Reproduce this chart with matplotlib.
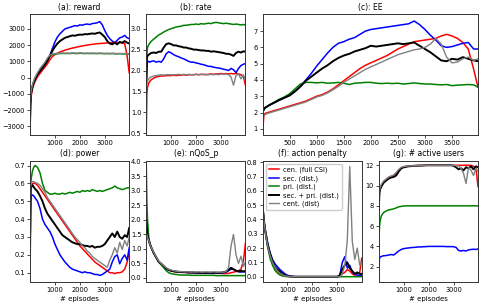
import numpy as np
import matplotlib
matplotlib.use('Agg')
import matplotlib.pyplot as plt
from matplotlib.gridspec import GridSpec

# episode grid the values were read at
episodes = [1, 25, 50, 100, 150, 200, 300, 400, 500, 600, 700, 800, 900, 1000,
            1100, 1200, 1300, 1400, 1500, 1600, 1700, 1800, 1900, 2000, 2100, 2200,
            2300, 2400, 2500, 2600, 2700, 2800, 2900, 3000, 3100, 3200, 3300, 3400,
            3500, 3600, 3700, 3800, 3900, 3980]

labels = ['cen. (full CSI)', 'sec. (dist.)', 'pri. (dist.)', 'sec. + pri. (dist.)', 'cent. (dist)']
colors = ['red', 'blue', 'green', 'black', 'gray']
widths = [1.1, 1.1, 1.1, 1.4, 1.0]

# (a) reward
reward_cen = [-1100, -1500, -1100, -700, -450, -250, 50, 250, 450, 650, 850, 1100, 1300, 1420,
              1500, 1580, 1630, 1690, 1730, 1780, 1820, 1850, 1890, 1920, 1950, 1980, 2000,
              2030, 2050, 2070, 2090, 2100, 2110, 2120, 2140, 2150, 2140, 2160, 2150, 2160,
              2130, 2100, 1300, 300]
reward_sec = [-3300, -1300, -900, -550, -300, -100, 200, 400, 600, 800, 1050, 1350, 1800, 2200,
              2500, 2700, 2850, 3000, 3050, 3100, 3150, 3200, 3180, 3250, 3230, 3280, 3300,
              3270, 3330, 3350, 3380, 3450, 3250, 2900, 2600, 2400, 2250, 2150, 2300, 2450,
              2500, 2600, 2450, 2400]
reward_pri = [-2000, -1300, -900, -500, -250, -50, 250, 500, 700, 900, 1150, 1350, 1420, 1450,
              1470, 1480, 1490, 1480, 1490, 1480, 1500, 1490, 1480, 1500, 1490, 1480, 1490,
              1480, 1490, 1480, 1480, 1490, 1480, 1470, 1480, 1470, 1480, 1470, 1460, 1470,
              1460, 1460, 1450, 1440]
reward_secpri = [-2800, -1300, -900, -550, -300, -100, 200, 400, 600, 800, 1050, 1350, 1650,
                 1900, 2100, 2250, 2350, 2450, 2500, 2550, 2600, 2580, 2620, 2650, 2640, 2680,
                 2670, 2700, 2720, 2700, 2750, 2780, 2650, 2500, 2250, 2100, 2050, 2150, 2050,
                 2200, 2150, 2250, 2150, 2100]
reward_cent = [-2000, -1200, -800, -450, -200, 0, 300, 550, 750, 950, 1200, 1400, 1450, 1480,
               1500, 1500, 1510, 1500, 1510, 1500, 1520, 1510, 1500, 1520, 1510, 1500, 1510,
               1500, 1510, 1500, 1500, 1510, 1500, 1490, 1500, 1490, 1500, 1490, 1480, 1490,
               1480, 1480, 1470, 1460]

# (b) rate
rate_cen = [0.5, 1.45, 1.6, 1.7, 1.75, 1.78, 1.82, 1.85, 1.86, 1.87, 1.87, 1.88, 1.88, 1.88,
            1.89, 1.88, 1.89, 1.89, 1.9, 1.89, 1.9, 1.9, 1.9, 1.91, 1.9, 1.91, 1.91, 1.9,
            1.91, 1.92, 1.91, 1.92, 1.92, 1.93, 1.92, 1.93, 1.92, 1.93, 1.92, 1.93, 1.92,
            1.9, 1.85, 1.65]
rate_sec = [1.7, 2.1, 2.2, 2.22, 2.2, 2.22, 2.23, 2.2, 2.22, 2.2, 2.28, 2.4, 2.45, 2.42,
            2.38, 2.35, 2.33, 2.3, 2.28, 2.25, 2.22, 2.2, 2.2, 2.18, 2.17, 2.15, 2.14, 2.12,
            2.1, 2.1, 2.08, 2.07, 2.06, 2.05, 2.03, 2.02, 2.0, 2.05, 2.02, 1.95, 2.05, 2.12,
            2.15, 2.17]
rate_pri = [1.65, 2.4, 2.55, 2.62, 2.66, 2.7, 2.75, 2.8, 2.85, 2.88, 2.92, 2.95, 2.98, 3.0,
            3.02, 3.04, 3.05, 3.06, 3.08, 3.08, 3.09, 3.1, 3.1, 3.11, 3.1, 3.12, 3.11, 3.12,
            3.13, 3.12, 3.14, 3.15, 3.14, 3.13, 3.12, 3.13, 3.12, 3.11, 3.1, 3.11, 3.1, 3.09,
            3.1, 3.08]
rate_secpri = [1.7, 2.3, 2.35, 2.38, 2.4, 2.42, 2.43, 2.42, 2.45, 2.45, 2.55, 2.63, 2.65,
               2.63, 2.6, 2.6, 2.58, 2.57, 2.55, 2.55, 2.53, 2.52, 2.5, 2.5, 2.49, 2.48, 2.48,
               2.47, 2.47, 2.45, 2.46, 2.45, 2.44, 2.43, 2.42, 2.4, 2.4, 2.38, 2.35, 2.42,
               2.45, 2.43, 2.46, 2.45]
rate_cent = [1.6, 1.7, 1.75, 1.8, 1.83, 1.85, 1.87, 1.88, 1.89, 1.9, 1.89, 1.9, 1.9, 1.9,
             1.9, 1.9, 1.91, 1.9, 1.91, 1.9, 1.91, 1.9, 1.9, 1.91, 1.9, 1.91, 1.9, 1.91, 1.9,
             1.91, 1.9, 1.91, 1.9, 1.92, 1.91, 1.92, 1.9, 1.85, 1.65, 1.88, 1.92, 1.8, 1.9,
             1.75]

# (c) EE
ee_cen = [0.8, 1.85, 1.95, 2.0, 2.05, 2.1, 2.2, 2.3, 2.4, 2.5, 2.6, 2.7, 2.85, 3.0, 3.1,
          3.25, 3.45, 3.7, 3.95, 4.2, 4.45, 4.7, 4.9, 5.05, 5.2, 5.35, 5.5, 5.7, 5.9, 6.05,
          6.2, 6.35, 6.4, 6.45, 6.5, 6.55, 6.7, 6.8, 6.7, 6.55, 6.3, 5.9, 4.65, 3.55]
ee_sec = [2.0, 2.2, 2.3, 2.4, 2.5, 2.58, 2.75, 2.9, 3.05, 3.3, 3.6, 4.0, 4.4, 4.85, 5.25,
          5.65, 6.0, 6.25, 6.35, 6.5, 6.6, 6.8, 7.0, 7.1, 7.15, 7.2, 7.25, 7.3, 7.35, 7.4,
          7.45, 7.62, 7.4, 7.1, 6.75, 6.45, 6.1, 6.0, 6.05, 6.15, 6.25, 6.3, 5.9, 5.9]
ee_pri = [2.0, 2.2, 2.3, 2.4, 2.5, 2.6, 2.8, 2.95, 3.15, 3.45, 3.75, 3.85, 3.85, 3.82, 3.85,
          3.8, 3.82, 3.85, 3.8, 3.72, 3.8, 3.82, 3.85, 3.85, 3.8, 3.78, 3.8, 3.78, 3.8, 3.75,
          3.78, 3.82, 3.78, 3.75, 3.75, 3.72, 3.7, 3.72, 3.65, 3.68, 3.7, 3.72, 3.7, 3.55]
ee_secpri = [2.0, 2.2, 2.3, 2.4, 2.5, 2.58, 2.75, 2.9, 3.05, 3.3, 3.6, 3.95, 4.2, 4.45, 4.7,
             4.9, 5.15, 5.35, 5.5, 5.6, 5.75, 5.85, 5.95, 6.1, 6.05, 6.1, 6.15, 6.2, 6.25,
             6.2, 6.25, 6.3, 6.1, 5.9, 5.7, 5.45, 5.2, 5.15, 5.3, 5.25, 5.4, 5.3, 5.2, 5.15]
ee_cent = [1.5, 1.8, 1.88, 1.95, 2.0, 2.05, 2.15, 2.25, 2.35, 2.45, 2.55, 2.65, 2.8, 2.95,
           3.05, 3.2, 3.4, 3.6, 3.85, 4.05, 4.25, 4.45, 4.65, 4.8, 4.95, 5.1, 5.25, 5.4, 5.55,
           5.65, 5.75, 5.85, 5.9, 6.0, 6.2, 6.55, 6.2, 5.4, 5.05, 5.1, 5.3, 5.4, 5.2, 5.3]

# (d) power
power_cen = [0.17, 0.5, 0.58, 0.6, 0.6, 0.6, 0.59, 0.57, 0.55, 0.53, 0.51, 0.49, 0.47, 0.45,
             0.43, 0.41, 0.39, 0.37, 0.35, 0.33, 0.31, 0.29, 0.27, 0.25, 0.235, 0.22, 0.205,
             0.19, 0.175, 0.16, 0.15, 0.14, 0.13, 0.12, 0.11, 0.1, 0.1, 0.095, 0.1, 0.1,
             0.105, 0.12, 0.16, 0.22]
power_sec = [0.2, 0.5, 0.53, 0.535, 0.53, 0.52, 0.5, 0.46, 0.4, 0.37, 0.35, 0.33, 0.3, 0.26,
             0.23, 0.2, 0.18, 0.16, 0.145, 0.13, 0.12, 0.115, 0.11, 0.105, 0.1, 0.105, 0.1,
             0.1, 0.095, 0.09, 0.09, 0.085, 0.09, 0.1, 0.11, 0.12, 0.16, 0.19, 0.2, 0.15,
             0.18, 0.2, 0.17, 0.24]
power_pri = [0.4, 0.58, 0.63, 0.67, 0.69, 0.7, 0.69, 0.66, 0.6, 0.56, 0.55, 0.54, 0.54, 0.545,
             0.54, 0.54, 0.545, 0.54, 0.545, 0.55, 0.545, 0.55, 0.555, 0.55, 0.56, 0.555,
             0.56, 0.555, 0.565, 0.56, 0.555, 0.56, 0.555, 0.56, 0.565, 0.57, 0.575, 0.585,
             0.575, 0.57, 0.565, 0.57, 0.575, 0.575]
power_secpri = [0.2, 0.56, 0.58, 0.59, 0.58, 0.57, 0.555, 0.53, 0.5, 0.46, 0.43, 0.41, 0.39,
                0.37, 0.35, 0.33, 0.31, 0.3, 0.29, 0.28, 0.27, 0.265, 0.26, 0.26, 0.255, 0.25,
                0.25, 0.245, 0.25, 0.24, 0.245, 0.245, 0.25, 0.26, 0.28, 0.3, 0.32, 0.3, 0.33,
                0.3, 0.29, 0.31, 0.3, 0.35]
power_cent = [0.3, 0.58, 0.6, 0.61, 0.61, 0.605, 0.6, 0.59, 0.57, 0.55, 0.52, 0.5, 0.48, 0.46,
              0.44, 0.42, 0.4, 0.38, 0.36, 0.34, 0.32, 0.3, 0.285, 0.27, 0.25, 0.24, 0.22,
              0.21, 0.19, 0.18, 0.17, 0.16, 0.15, 0.14, 0.13, 0.17, 0.2, 0.24, 0.21, 0.27,
              0.23, 0.28, 0.25, 0.3]

# (e) nQoS_p
nqos_cen = [2.0, 1.7, 1.5, 1.3, 1.15, 1.05, 0.85, 0.7, 0.55, 0.48, 0.4, 0.32, 0.27, 0.24,
            0.22, 0.21, 0.2, 0.2, 0.19, 0.19, 0.18, 0.18, 0.18, 0.17, 0.17, 0.17, 0.17, 0.16,
            0.17, 0.16, 0.16, 0.16, 0.16, 0.16, 0.15, 0.15, 0.16, 0.18, 0.2, 0.22, 0.25, 0.3,
            0.6, 1.2]
nqos_sec = [2.0, 1.7, 1.5, 1.3, 1.15, 1.05, 0.86, 0.7, 0.56, 0.48, 0.4, 0.33, 0.28, 0.25,
            0.23, 0.22, 0.21, 0.2, 0.2, 0.19, 0.19, 0.18, 0.18, 0.18, 0.18, 0.17, 0.17, 0.17,
            0.17, 0.17, 0.17, 0.17, 0.17, 0.17, 0.18, 0.2, 0.25, 0.3, 0.3, 0.25, 0.22, 0.2,
            0.22, 0.2]
nqos_pri = [3.9, 2.6, 2.0, 1.4, 1.2, 1.05, 0.85, 0.7, 0.55, 0.45, 0.35, 0.25, 0.18, 0.15,
            0.13, 0.12, 0.11, 0.1, 0.1, 0.1, 0.1, 0.09, 0.09, 0.09, 0.09, 0.09, 0.09, 0.09,
            0.09, 0.09, 0.09, 0.08, 0.08, 0.08, 0.08, 0.08, 0.08, 0.08, 0.08, 0.08, 0.08,
            0.08, 0.08, 0.08]
nqos_secpri = [2.0, 1.7, 1.5, 1.3, 1.15, 1.05, 0.86, 0.71, 0.56, 0.49, 0.41, 0.33, 0.28,
               0.25, 0.23, 0.22, 0.21, 0.2, 0.2, 0.2, 0.19, 0.19, 0.19, 0.18, 0.18, 0.18,
               0.18, 0.18, 0.18, 0.18, 0.18, 0.18, 0.18, 0.18, 0.2, 0.22, 0.28, 0.35, 0.3,
               0.25, 0.22, 0.25, 0.22, 0.25]
nqos_cent = [1.5, 1.5, 1.4, 1.3, 1.15, 1.05, 0.88, 0.72, 0.58, 0.5, 0.42, 0.35, 0.3, 0.27,
             0.25, 0.23, 0.22, 0.22, 0.21, 0.21, 0.21, 0.2, 0.21, 0.2, 0.21, 0.2, 0.2, 0.21,
             0.2, 0.2, 0.21, 0.2, 0.2, 0.2, 0.2, 0.22, 0.35, 1.1, 1.5, 0.8, 0.5, 0.75, 0.4,
             0.55]

# (f) action penalty
pen_cen = [0.5, 0.45, 0.4, 0.33, 0.27, 0.22, 0.15, 0.1, 0.06, 0.035, 0.02, 0.01, 0.005,
           0.003, 0.002, 0.001, 0, 0, 0, 0, 0, 0, 0, 0, 0, 0, 0, 0, 0, 0, 0, 0, 0, 0, 0,
           0.02, 0.03, 0.05, 0.04, 0.02, 0.01, 0.02, 0.03, 0.13]
pen_sec = [0.5, 0.45, 0.4, 0.34, 0.29, 0.24, 0.17, 0.12, 0.09, 0.07, 0.05, 0.035, 0.02,
           0.01, 0.005, 0.002, 0, 0, 0, 0, 0, 0, 0, 0, 0, 0, 0, 0, 0, 0, 0, 0, 0, 0, 0.01,
           0.1, 0.14, 0.06, 0.08, 0.03, 0.02, 0.01, 0.01, 0.01]
pen_pri = [0.55, 0.47, 0.41, 0.33, 0.27, 0.21, 0.13, 0.08, 0.045, 0.025, 0.012, 0.005,
           0.002, 0, 0, 0, 0, 0, 0, 0, 0, 0, 0, 0, 0, 0, 0, 0, 0, 0, 0, 0, 0, 0, 0, 0, 0,
           0, 0, 0, 0, 0, 0, 0]
pen_secpri = [0.5, 0.45, 0.4, 0.33, 0.28, 0.23, 0.16, 0.11, 0.07, 0.05, 0.035, 0.02, 0.01,
              0.005, 0.002, 0.001, 0, 0, 0, 0, 0, 0, 0, 0, 0, 0, 0, 0, 0, 0, 0, 0, 0, 0,
              0.01, 0.05, 0.08, 0.1, 0.06, 0.04, 0.02, 0.03, 0.02, 0.02]
pen_cent = [0.5, 0.45, 0.4, 0.33, 0.27, 0.22, 0.15, 0.1, 0.065, 0.04, 0.025, 0.012, 0.006,
            0.003, 0.001, 0, 0, 0, 0, 0, 0, 0, 0, 0, 0, 0, 0, 0, 0, 0, 0, 0, 0, 0, 0,
            0.02, 0.08, 0.25, 0.77, 0.25, 0.12, 0.2, 0.08, 0.1]

# (g) # active users
users_cen = [8.0, 9.3, 9.7, 10.0, 10.2, 10.4, 10.6, 10.8, 10.9, 11.0, 11.2, 11.5, 11.75,
             11.85, 11.9, 11.92, 11.95, 11.95, 11.97, 11.98, 11.98, 12, 12, 12, 12, 12, 12,
             12, 12, 12, 12, 12, 12, 12, 12, 12, 12, 12, 12, 12, 12, 11.9, 11.7, 9.9]
users_sec = [1.0, 2.8, 2.95, 3.0, 3.05, 3.08, 3.1, 3.15, 3.2, 3.15, 3.35, 3.55, 3.7, 3.78,
             3.82, 3.85, 3.88, 3.9, 3.92, 3.95, 3.95, 3.97, 3.98, 4.0, 4.0, 4.0, 4.0, 4.0,
             4.0, 4.0, 3.98, 3.98, 3.98, 3.97, 3.9, 3.6, 3.55, 3.6, 3.55, 3.65, 3.7, 3.72,
             3.7, 3.75]
users_pri = [4.0, 5.8, 6.5, 7.0, 7.2, 7.35, 7.5, 7.6, 7.65, 7.7, 7.8, 7.9, 7.95, 7.98, 8.0,
             8.0, 8.0, 8.0, 8.0, 8.0, 8.0, 8.0, 8.0, 8.0, 8.0, 8.0, 8.0, 8.0, 8.0, 8.0, 8.0,
             8.0, 8.0, 8.0, 8.0, 8.0, 8.0, 8.0, 8.0, 8.0, 8.0, 8.0, 8.0, 8.0]
users_secpri = [7.5, 9.3, 9.6, 9.9, 10.1, 10.3, 10.5, 10.7, 10.8, 10.85, 11.0, 11.4, 11.7,
                11.8, 11.85, 11.9, 11.92, 11.95, 11.95, 11.97, 11.97, 11.98, 12, 12, 12, 12,
                12, 12, 12, 12, 12, 12, 12, 11.95, 11.8, 11.6, 11.7, 11.5, 11.8, 11.7, 11.9,
                11.6, 11.9, 11.8]
users_cent = [8.0, 9.4, 9.8, 10.1, 10.3, 10.45, 10.65, 10.85, 10.95, 11.05, 11.3, 11.6,
              11.8, 11.88, 11.9, 11.92, 11.95, 11.95, 11.97, 11.98, 11.98, 12, 12, 12, 12,
              12, 12, 12, 12, 12, 12, 12, 12, 12, 11.95, 11.95, 11.7, 11.2, 10.2, 11.8, 11.5,
              11.0, 11.7, 11.4]

panels = [
    ('(a): reward', [reward_cen, reward_sec, reward_pri, reward_secpri, reward_cent]),
    ('(b): rate', [rate_cen, rate_sec, rate_pri, rate_secpri, rate_cent]),
    ('(c): EE', [ee_cen, ee_sec, ee_pri, ee_secpri, ee_cent]),
    ('(d): power', [power_cen, power_sec, power_pri, power_secpri, power_cent]),
    ('(e): nQoS_p', [nqos_cen, nqos_sec, nqos_pri, nqos_secpri, nqos_cent]),
    ('(f): action penalty', [pen_cen, pen_sec, pen_pri, pen_secpri, pen_cent]),
    ('(g): # active users', [users_cen, users_sec, users_pri, users_secpri, users_cent]),
]

plt.rcParams['font.size'] = 5
fig = plt.figure(figsize=(4.85, 3.08), dpi=100)
gs = GridSpec(2, 4, figure=fig, left=30 / 485, right=478 / 485, top=1 - 14 / 308,
              bottom=1 - 282 / 308, wspace=0.172, hspace=0.206)
axes = [fig.add_subplot(gs[0, 0]), fig.add_subplot(gs[0, 1]), fig.add_subplot(gs[0, 2:]),
        fig.add_subplot(gs[1, 0]), fig.add_subplot(gs[1, 1]), fig.add_subplot(gs[1, 2]),
        fig.add_subplot(gs[1, 3])]

ylims = [(-3570, 3920), (0.45, 3.35), (0.59, 8.05), (0.048, 0.728), (-0.14, 4.05),
         (-0.037, 0.812), (0.49, 12.47)]
yticks = [np.arange(-3000, 3001, 1000), np.arange(0.5, 3.01, 0.5), np.arange(1, 8),
          np.arange(0.1, 0.71, 0.1), np.arange(0, 4.01, 0.5), np.arange(0, 0.81, 0.1),
          np.arange(2, 13, 2)]

x = np.array(episodes)
for i, (ax, (title, series)) in enumerate(zip(axes, panels)):
    for vals, c, lw, lab in zip(series, colors, widths, labels):
        ax.plot(x, vals, color=c, lw=lw, label=lab)
    ax.set_title(title, fontsize=5.5, pad=3)
    ax.set_xlim(0, 3980)
    ax.set_ylim(*ylims[i])
    ax.set_yticks(yticks[i])
    if i == 2:
        ax.set_xticks(np.arange(500, 3501, 500))
    else:
        ax.set_xticks([1000, 2000, 3000])
    if i >= 3:
        ax.set_xlabel('# episodes', fontsize=5, labelpad=2)
    ax.tick_params(labelsize=4.8, length=2, width=0.5, pad=1.5)
    for s in ax.spines.values():
        s.set_linewidth(0.7)
        s.set_color('#333333')

axes[5].legend(loc='upper left', fontsize=4.8, handlelength=1.6, handletextpad=0.6,
               borderpad=0.4, labelspacing=0.3, framealpha=1)

fig.savefig('out.png', dpi=100)
